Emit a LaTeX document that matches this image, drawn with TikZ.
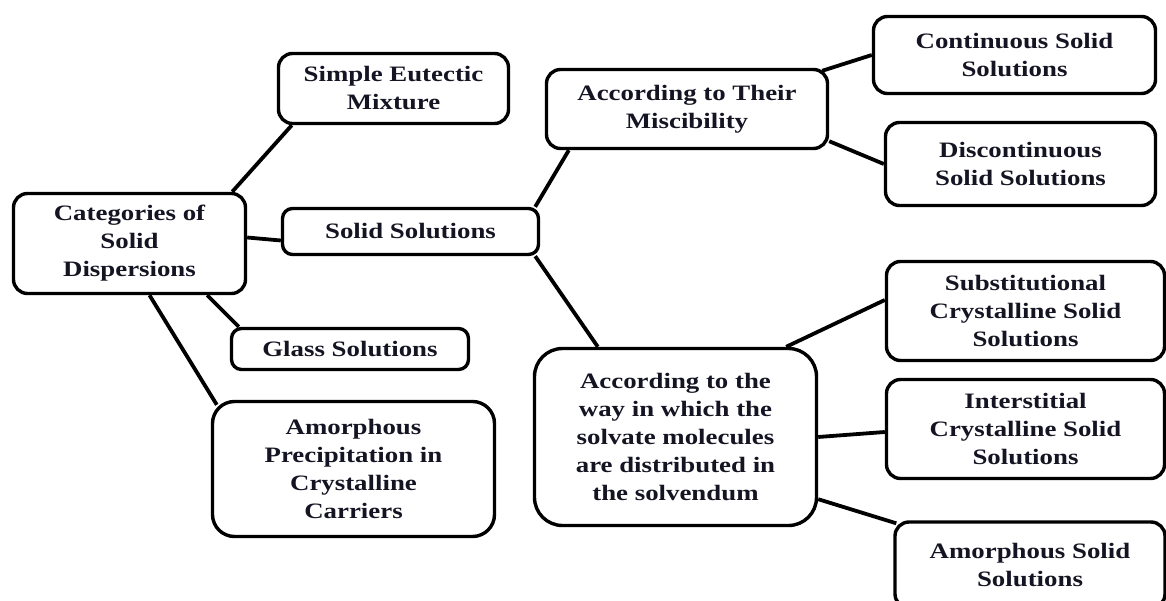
\documentclass[tikz,border=0pt]{standalone}
\usepackage{fontspec}
\setmainfont[FakeStretch=1.22]{Liberation Serif}
\usetikzlibrary{positioning,calc}
\usepackage{xcolor}
\definecolor{tinta}{RGB}{20,20,35}

\begin{document}
\begin{tikzpicture}[x=1pt, y=-1pt,
  box/.style={rectangle, draw=black, line width=3.4pt, rounded corners=14pt,
    font=\fontsize{22}{28}\selectfont\bfseries, text=tinta, align=center,
    inner sep=2pt},
  link/.style={draw=black, line width=3.8pt}]
\useasboundingbox[fill=white] (0,0) rectangle (1166,601);
% main categories
\node[box, minimum width=232pt, minimum height=100pt] (cat) at (129.5,243.5) {Categories of\\Solid\\Dispersions};
\node[box, minimum width=230pt, minimum height=70pt] (eut) at (393.5,88.5) {Simple Eutectic\\Mixture};
\node[box, minimum width=256pt, minimum height=46pt, rounded corners=10pt] (solsol) at (410.5,231.5) {Solid Solutions};
\node[box, minimum width=237pt, minimum height=41pt, rounded corners=10pt] (glass) at (350,349) {Glass Solutions};
\node[box, minimum width=282pt, minimum height=135pt, rounded corners=22pt] (amorph) at (353.5,469) {Amorphous\\Precipitation in\\Crystalline\\Carriers};
% solid solutions branches
\node[box, minimum width=281pt, minimum height=79pt] (misc) at (687,109) {According to Their\\Miscibility};
\node[box, minimum width=282pt, minimum height=177pt, rounded corners=28pt] (way) at (675.5,437) {According to the\\way in which the\\solvate molecules\\are distributed in\\the solvendum};
% leaves
\node[box, minimum width=282pt, minimum height=77pt] (cont) at (1014.5,55) {Continuous Solid\\Solutions};
\node[box, minimum width=270pt, minimum height=83pt] (discont) at (1020.5,164) {Discontinuous\\Solid Solutions};
\node[box, minimum width=278pt, minimum height=99pt] (subst) at (1025.5,311) {Substitutional\\Crystalline Solid\\Solutions};
\node[box, minimum width=278pt, minimum height=99pt] (inter) at (1025.5,429) {Interstitial\\Crystalline Solid\\Solutions};
\node[box, minimum width=270pt, minimum height=86pt] (amsol) at (1030,565) {Amorphous Solid\\Solutions};
% connectors
\draw[link] ([xshift=-15pt]cat.north east) -- ([xshift=15pt]eut.south west);
\draw[link] ([yshift=6pt]cat.east) -- ([yshift=-9pt]solsol.west);
\draw[link] ([xshift=-40pt]cat.south east) -- ([xshift=9pt]glass.north west);
\draw[link] ([xshift=20pt]cat.south) -- ([shift={(6pt,-5pt)}]amorph.north west);
\draw[link] ([xshift=-5pt]solsol.north east) -- ([xshift=24pt]misc.south west);
\draw[link] ([xshift=-5pt]solsol.south east) -- ([xshift=65pt]way.north west);
\draw[link] ([shift={(-7pt,-3pt)}]misc.north east) -- (cont.west);
\draw[link] ([yshift=9pt]misc.south east) -- (discont.west);
\draw[link] ([xshift=-32pt]way.north east) -- ([yshift=11pt]subst.west);
\draw[link] (way.east) -- ([yshift=-3pt]inter.west);
\draw[link] ([yshift=28pt]way.south east) -- ([shift={(3pt,-3pt)}]amsol.north west);
\end{tikzpicture}
\end{document}
